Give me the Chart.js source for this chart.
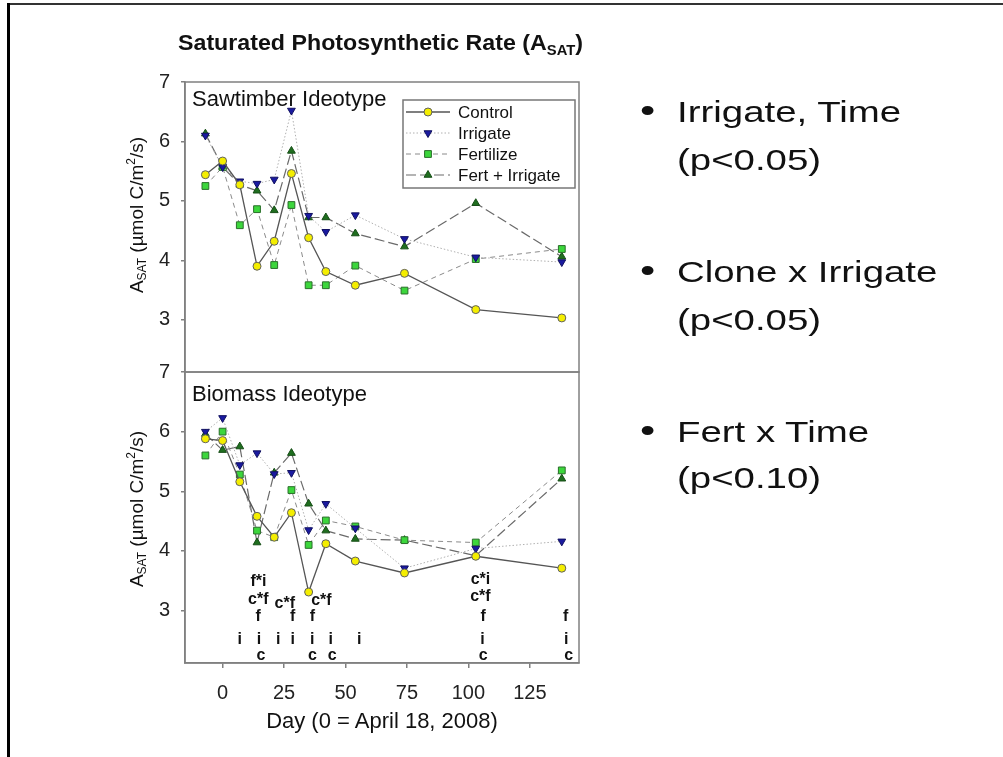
<!DOCTYPE html>
<html><head><meta charset="utf-8">
<script src="https://cdn.jsdelivr.net/npm/chart.js@4.4.0/dist/chart.umd.min.js"></script>
<style>
html,body{margin:0;padding:0;background:#fff;}
body{width:1003px;height:757px;position:relative;overflow:hidden;font-family:"Liberation Sans",Arial,sans-serif;color:#111;}
canvas{position:absolute;left:0;top:0;}
.t{position:absolute;white-space:nowrap;line-height:1;}
sub,sup{line-height:0;}
.yt{position:absolute;white-space:nowrap;font-size:19px;line-height:19px;transform:translate(-50%,-50%) rotate(-90deg);}
.yt sub{font-size:12px;vertical-align:-3px;}
.yt sup{font-size:12px;vertical-align:8px;}
.b{position:absolute;white-space:nowrap;font-size:30px;line-height:30px;transform:scaleX(1.28);transform-origin:0 0;color:#111;}
#frameTop{position:absolute;left:7px;top:3px;width:996px;height:2px;background:#333;}
#frameLeft{position:absolute;left:7px;top:3px;width:3px;height:754px;background:#000;}
</style></head><body>
<div id="frameTop"></div><div id="frameLeft"></div>
<canvas id="c1" width="1003" height="757" style="width:1003px;height:757px"></canvas>
<canvas id="c2" width="1003" height="757" style="width:1003px;height:757px"></canvas>

<div class="t" style="left:178px;top:32px;font-size:22px;font-weight:bold;transform:scaleX(1.055);transform-origin:0 0;">Saturated Photosynthetic Rate (A<sub style="font-size:14px;vertical-align:-5px">SAT</sub>)</div>
<div class="t" style="left:192px;top:87.5px;font-size:22px;">Sawtimber Ideotype</div>
<div class="t" style="left:192px;top:382.5px;font-size:22px;">Biomass Ideotype</div>
<div class="yt" style="left:136px;top:215px;">A<sub>SAT</sub> (µmol C/m<sup>2</sup>/s)</div>
<div class="yt" style="left:136px;top:509px;">A<sub>SAT</sub> (µmol C/m<sup>2</sup>/s)</div>
<div class="t" style="left:382px;top:709.5px;font-size:22px;transform:translateX(-50%);">Day (0 = April 18, 2008)</div>

<div class="b" style="left:640px;top:96.6px;font-size:34px;line-height:34px;top:93px;">•</div>
<div class="b" style="left:677px;top:96.6px;">Irrigate, Time</div>
<div class="b" style="left:677px;top:144.6px;">(p&lt;0.05)</div>
<div class="b" style="left:640px;top:253px;font-size:34px;line-height:34px;">•</div>
<div class="b" style="left:677px;top:256.6px;">Clone x Irrigate</div>
<div class="b" style="left:677px;top:304.6px;">(p&lt;0.05)</div>
<div class="b" style="left:640px;top:413px;font-size:34px;line-height:34px;">•</div>
<div class="b" style="left:677px;top:416.6px;">Fert x Time</div>
<div class="b" style="left:677px;top:462.6px;">(p&lt;0.10)</div>

<script>
// ---- data ----
const days = [-7, 0, 7, 14, 21, 28, 35, 42, 54, 74, 103, 138];
const seriesNames = ['Control', 'Irrigate', 'Fertilize', 'Fert + Irrigate'];
const sawControl   = [5.44, 5.67, 5.27, 3.90, 4.32, 5.46, 4.38, 3.81, 3.58, 3.78, 3.17, 3.03];
const sawIrrigate  = [6.10, 5.57, 5.33, 5.29, 5.36, 6.52, 4.75, 4.48, 4.76, 4.36, 4.05, 3.97];
const sawFertilize = [5.25, 5.57, 4.59, 4.86, 3.92, 4.93, 3.58, 3.58, 3.91, 3.49, 4.02, 4.19];
const sawFertIrr   = [6.13, 5.57, 5.27, 5.17, 4.84, 5.84, 4.72, 4.72, 4.45, 4.23, 4.96, 4.06];
const bioControl   = [5.88, 5.85, 5.16, 4.58, 4.23, 4.64, 3.31, 4.12, 3.83, 3.63, 3.91, 3.71];
const bioIrrigate  = [6.00, 6.23, 5.44, 5.64, 5.29, 5.31, 4.35, 4.79, 4.38, 3.71, 4.04, 4.16];
const bioFertilize = [5.60, 6.00, 5.28, 4.34, 4.23, 5.02, 4.10, 4.51, 4.41, 4.18, 4.14, 5.35];
const bioFertIrr   = [5.96, 5.69, 5.75, 4.14, 5.31, 5.64, 4.79, 4.34, 4.20, 4.18, 3.92, 5.21];
const yTickValues = [3, 4, 5, 6, 7];
const xTickValues = [0, 25, 50, 75, 100, 125];
const annoText  = ['i','i','i','i','i','i','i','i','i', 'c','c','c','c','c', 'f','f','f','f','f', 'c*f','c*f','c*f','c*f', 'f*i','c*i'];
const annoDay   = [7, 14.8, 22.6, 28.5, 36.5, 44, 55.6, 105.7, 139.8, 15.6, 36.6, 44.6, 106, 140.8, 14.5, 28.5, 36.5, 106, 139.6, 14.5, 25.3, 40.2, 104.9, 14.6, 104.9];
const annoValue = [2.51,2.51,2.51,2.51,2.51,2.51,2.51,2.51,2.51, 2.24,2.24,2.24,2.24,2.24, 2.89,2.89,2.89,2.89,2.89, 3.18,3.12,3.16,3.24, 3.49,3.52];

// ---- styles ----
const styles = [
  {borderColor:'#555555', borderWidth:1.3, borderDash:[], pointStyle:'circle', pointRadius:4, pointRotation:0, pointBackgroundColor:'#f4ee00', pointBorderColor:'#606060'},
  {borderColor:'#b0b0b0', borderWidth:1, borderDash:[1.5,2], pointStyle:'triangle', pointRadius:4.5, pointRotation:180, pointBackgroundColor:'#1a1aa0', pointBorderColor:'#101060'},
  {borderColor:'#8a8a8a', borderWidth:1, borderDash:[5,4], pointStyle:'rect', pointRadius:4.8, pointRotation:0, pointBackgroundColor:'#3cd63c', pointBorderColor:'#2a6e2a'},
  {borderColor:'#6a6a6a', borderWidth:1.2, borderDash:[10,4], pointStyle:'triangle', pointRadius:4.5, pointRotation:0, pointBackgroundColor:'#1f6e1f', pointBorderColor:'#154d15'}
];
const FONT = 'Liberation Sans';

function makeDatasets(arrs){
  return arrs.map((vals, k) => Object.assign({
    label: seriesNames[k],
    data: days.map((d, i) => ({x: d, y: vals[i]})),
    fill: false, tension: 0, pointBorderWidth: 1, pointHoverRadius: 4
  }, styles[k]));
}

const framePlugin = {
  id: 'frame',
  beforeDatasetsDraw(chart){
    const a = chart.chartArea, ctx = chart.ctx;
    ctx.save(); ctx.strokeStyle = '#808080'; ctx.lineWidth = 1.5;
    ctx.strokeRect(a.left, a.top, a.right - a.left, a.bottom - a.top);
    ctx.restore();
  }
};

function drawMarker(ctx, st, x, y){
  ctx.fillStyle = st.pointBackgroundColor; ctx.strokeStyle = st.pointBorderColor; ctx.lineWidth = 1;
  if (Chart.helpers && Chart.helpers.drawPoint) {
    Chart.helpers.drawPoint(ctx, {pointStyle: st.pointStyle, radius: st.pointRadius, rotation: st.pointRotation || 0, borderWidth: 1}, x, y);
  } else {
    ctx.beginPath(); ctx.arc(x, y, st.pointRadius, 0, Math.PI*2); ctx.fill(); ctx.stroke();
  }
}

const legendPlugin = {
  id: 'legendBox',
  afterDatasetsDraw(chart){
    const a = chart.chartArea, ctx = chart.ctx;
    const x0 = a.left + 218, y0 = a.top + 18, w = 172, h = 88;
    ctx.save();
    ctx.fillStyle = '#fff'; ctx.fillRect(x0, y0, w, h);
    ctx.strokeStyle = '#777'; ctx.lineWidth = 1.5; ctx.strokeRect(x0, y0, w, h);
    ctx.font = '17px ' + FONT; ctx.textBaseline = 'middle'; ctx.textAlign = 'left';
    seriesNames.forEach((name, k) => {
      const st = styles[k], yy = y0 + 12 + k * 21;
      ctx.save();
      ctx.strokeStyle = st.borderColor; ctx.lineWidth = st.borderWidth; ctx.setLineDash(st.borderDash);
      ctx.beginPath(); ctx.moveTo(x0 + 3, yy); ctx.lineTo(x0 + 47, yy); ctx.stroke();
      ctx.setLineDash([]);
      drawMarker(ctx, st, x0 + 25, yy);
      ctx.restore();
      ctx.fillStyle = '#111'; ctx.fillText(name, x0 + 55, yy + 1);
    });
    ctx.restore();
  }
};

const annoPlugin = {
  id: 'anno',
  afterDatasetsDraw(chart){
    const xs = chart.scales.x, ys = chart.scales.y, ctx = chart.ctx;
    ctx.save();
    ctx.font = 'bold 16px ' + FONT; ctx.fillStyle = '#111';
    ctx.textAlign = 'center'; ctx.textBaseline = 'middle';
    annoText.forEach((t, i) => ctx.fillText(t, xs.getPixelForValue(annoDay[i]), ys.getPixelForValue(annoValue[i])));
    ctx.restore();
  }
};

function yAxis(){
  return {
    type: 'linear', min: 2.12, max: 7,
    afterFit(s){ s.width = 185; },
    afterBuildTicks(s){ s.ticks = yTickValues.map(v => ({value: v})); },
    ticks: {font: {family: FONT, size: 20}, color: '#222', padding: 11},
    grid: {drawOnChartArea: false, drawTicks: true, tickLength: 4, tickColor: '#808080', lineWidth: 1.5},
    border: {display: true, color: '#808080', width: 1.5}
  };
}

const common = {
  responsive: false, animation: false, devicePixelRatio: 1,
  plugins: {legend: {display: false}, tooltip: {enabled: false}}
};

new Chart(document.getElementById('c1'), {
  type: 'line',
  data: {datasets: makeDatasets([sawControl, sawIrrigate, sawFertilize, sawFertIrr])},
  options: Object.assign({}, common, {
    layout: {padding: {top: 82, left: 0, right: 424, bottom: 385}},
    scales: {
      x: {type: 'linear', min: -15.3, max: 145, display: false},
      y: yAxis()
    }
  }),
  plugins: [framePlugin, legendPlugin]
});

new Chart(document.getElementById('c2'), {
  type: 'line',
  data: {datasets: makeDatasets([bioControl, bioIrrigate, bioFertilize, bioFertIrr])},
  options: Object.assign({}, common, {
    layout: {padding: {top: 372, left: 0, right: 424, bottom: 0}},
    scales: {
      x: {
        type: 'linear', min: -15.3, max: 145,
        afterFit(s){ s.height = 94; },
        afterBuildTicks(s){ s.ticks = xTickValues.map(v => ({value: v})); },
        ticks: {font: {family: FONT, size: 20}, color: '#222', padding: 13, maxRotation: 0, autoSkip: false},
        grid: {drawOnChartArea: false, drawTicks: true, tickLength: 5, tickColor: '#808080', lineWidth: 1.5},
        border: {display: true, color: '#808080', width: 1.5}
      },
      y: yAxis()
    }
  }),
  plugins: [framePlugin, annoPlugin]
});
</script>
</body></html>
